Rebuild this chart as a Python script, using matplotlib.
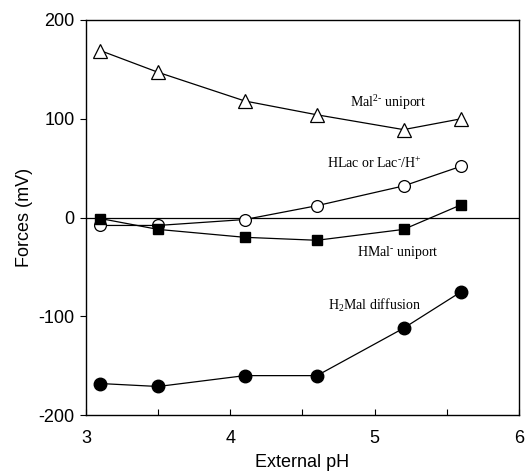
import matplotlib
matplotlib.use('Agg')
import matplotlib.pyplot as plt

plt.rcParams['axes.unicode_minus'] = False
plt.rcParams['mathtext.fontset'] = 'custom'
plt.rcParams['mathtext.rm'] = 'Liberation Serif'
plt.rcParams['mathtext.it'] = 'Liberation Serif:italic'
plt.rcParams['mathtext.bf'] = 'Liberation Serif:bold'

# External pH values (same for every series)
ph = [3.1, 3.5, 4.1, 4.6, 5.2, 5.6]

# Forces in mV
mal2_uniport = [169, 147, 118, 104, 89, 100]
hlac = [-8, -8, -2, 12, 32, 52]
hmal_uniport = [-1, -12, -20, -23, -12, 13]
h2mal_diffusion = [-168, -171, -160, -160, -112, -75]

fig = plt.figure(figsize=(5.27, 4.75), dpi=100)
ax = fig.add_axes([0.163, 0.126, 0.822, 0.832])

line_kw = dict(color='black', linewidth=0.9)
ax.plot(ph, mal2_uniport, marker='^', markersize=10, markerfacecolor='white',
        markeredgecolor='black', markeredgewidth=0.9, **line_kw)
ax.plot(ph, hlac, marker='o', markersize=8.5, markerfacecolor='white',
        markeredgecolor='black', markeredgewidth=0.9, **line_kw)
ax.plot(ph, hmal_uniport, marker='s', markersize=7, markerfacecolor='black',
        markeredgecolor='black', **line_kw)
ax.plot(ph, h2mal_diffusion, marker='o', markersize=9, markerfacecolor='black',
        markeredgecolor='black', **line_kw)

# zero line
ax.axhline(0, color='black', linewidth=0.9, zorder=1)

ax.set_xlim(3, 6)
ax.set_ylim(-200, 200)
ax.set_xticks([3, 4, 5, 6])
ax.set_xticks([3.5, 4.5, 5.5], minor=True)
ax.set_yticks([-200, -100, 0, 100, 200])
ax.tick_params(axis='x', direction='in', length=4, width=0.8, pad=11, labelsize=13)
ax.tick_params(axis='x', which='minor', direction='in', length=4, width=0.8)
ax.tick_params(axis='y', direction='out', length=4, width=0.8, pad=4, labelsize=13)
for lab in ax.get_xticklabels() + ax.get_yticklabels():
    lab.set_family('Liberation Sans')
for sp in ax.spines.values():
    sp.set_linewidth(1.0)

ax.set_xlabel('External pH', fontsize=13, family='Liberation Sans', labelpad=5)
ax.set_ylabel('Forces (mV)', fontsize=13, family='Liberation Sans', labelpad=4)

serif = dict(family='Liberation Serif', fontsize=10, ha='left', va='center')
ax.text(4.83, 116, r'Mal$^{\text{2-}}$ uniport', **serif)
ax.text(4.67, 55, r'HLac or Lac$^{\text{-}}$/H$^{\text{+}}$', **serif)
ax.text(4.88, -35, r'HMal$^{\text{-}}$ uniport', **serif)
ax.text(4.68, -89, r'H$_{\text{2}}$Mal diffusion', **serif)

fig.savefig('out.png', dpi=100)
